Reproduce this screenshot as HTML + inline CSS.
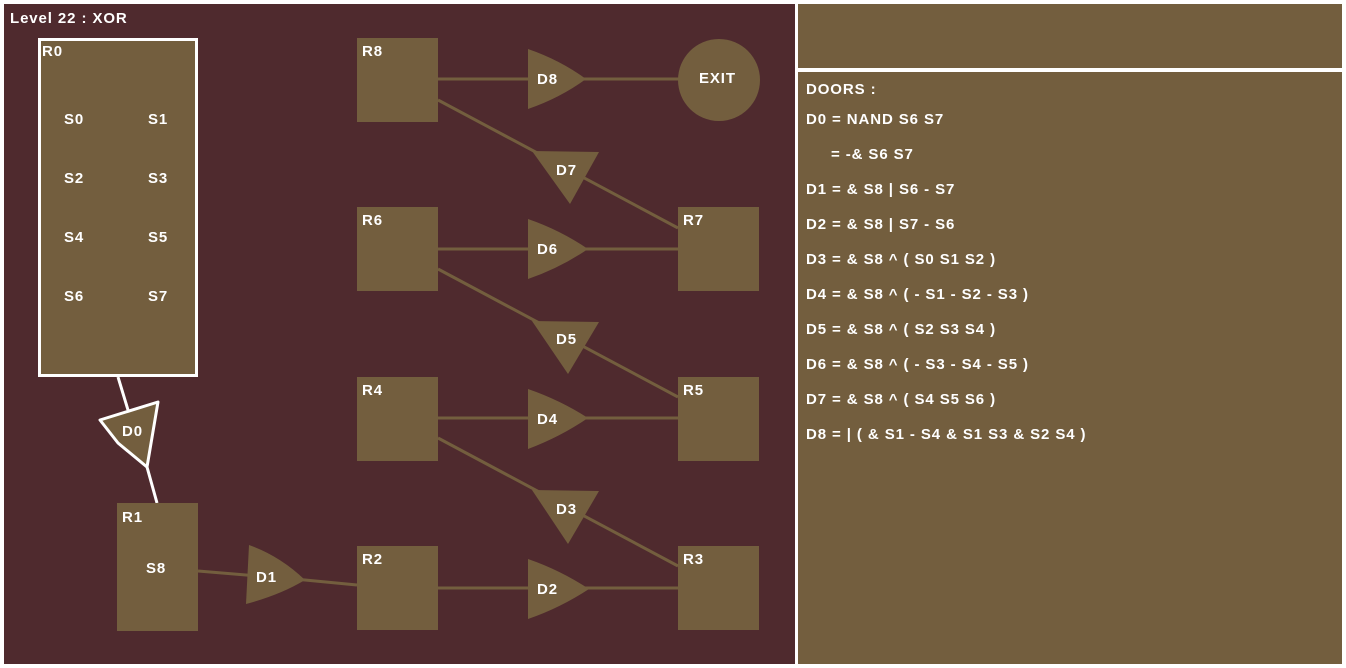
<!DOCTYPE html>
<html><head><meta charset="utf-8"><style>
html,body{margin:0;padding:0;background:#fff;}
svg{display:block;}
text{font-family:"Liberation Sans",sans-serif;font-weight:bold;fill:#fff;font-size:15px;letter-spacing:0.9px;}
</style></head><body>
<svg width="1346" height="668" viewBox="0 0 1346 668" xmlns="http://www.w3.org/2000/svg">
<rect x="0" y="0" width="1346" height="668" fill="#fff"/>
<rect x="4" y="4" width="791" height="660" fill="#4f2a2e"/>
<rect x="798" y="4" width="544" height="64" fill="#735e3e"/>
<rect x="798" y="72" width="544" height="592" fill="#735e3e"/>
<text x="10" y="23">Level 22 : XOR</text>
<g stroke="#735e3e" stroke-width="3" fill="none">
<line x1="438" y1="79" x2="720" y2="79"/>
<line x1="438" y1="100" x2="678" y2="228"/>
<line x1="438" y1="249" x2="678" y2="249"/>
<line x1="438" y1="269" x2="678" y2="397"/>
<line x1="438" y1="418" x2="678" y2="418"/>
<line x1="438" y1="438" x2="678" y2="566"/>
<line x1="438" y1="588" x2="678" y2="588"/>
<polyline points="198,571 305,580 357,585"/>
</g>
<g stroke="#fff" stroke-width="3" fill="none">
<line x1="118" y1="377" x2="128" y2="410"/>
<line x1="147" y1="467" x2="157" y2="503"/>
</g>
<g fill="#735e3e">
<rect x="357" y="38" width="81" height="84"/>
<rect x="357" y="207" width="81" height="84"/>
<rect x="678" y="207" width="81" height="84"/>
<rect x="357" y="377" width="81" height="84"/>
<rect x="678" y="377" width="81" height="84"/>
<rect x="357" y="546" width="81" height="84"/>
<rect x="678" y="546" width="81" height="84"/>
<rect x="117" y="503" width="81" height="128"/>
<circle cx="719" cy="80" r="41"/>
<path d="M528,49 Q560,60 586,79 Q560,98 528,109 Z"/>
<path d="M528,219 Q560,230 588,249 Q560,268 528,279 Z"/>
<path d="M528,389 Q560,400 588,418 Q560,437 528,449 Z"/>
<path d="M528,559 Q560,570 589,589 Q560,608 528,619 Z"/>
<path d="M249,545 Q280,556 305,580 Q280,595 246,604 Z"/>
<path d="M532,151 L599,152 L570,204 Z"/>
<path d="M532,321 L599,322 L568,374 Z"/>
<path d="M532,490 L599,491 L568,544 Z"/>
</g>
<rect x="39.5" y="39.5" width="157" height="336" fill="#735e3e" stroke="#fff" stroke-width="3"/>
<path d="M100,420 L158,402 L147,467 L118,443 Z" fill="#735e3e" stroke="#fff" stroke-width="3" stroke-linejoin="round"/>
<text x="42" y="56">R0</text>
<text x="64" y="124">S0</text><text x="148" y="124">S1</text>
<text x="64" y="183">S2</text><text x="148" y="183">S3</text>
<text x="64" y="242">S4</text><text x="148" y="242">S5</text>
<text x="64" y="301">S6</text><text x="148" y="301">S7</text>
<text x="122" y="436">D0</text>
<text x="122" y="522">R1</text>
<text x="146" y="573">S8</text>
<text x="256" y="582">D1</text>
<text x="362" y="56">R8</text>
<text x="362" y="225">R6</text>
<text x="362" y="395">R4</text>
<text x="362" y="564">R2</text>
<text x="683" y="225">R7</text>
<text x="683" y="395">R5</text>
<text x="683" y="564">R3</text>
<text x="699" y="83">EXIT</text>
<text x="537" y="84">D8</text>
<text x="537" y="254">D6</text>
<text x="537" y="424">D4</text>
<text x="537" y="594">D2</text>
<text x="556" y="175">D7</text>
<text x="556" y="344">D5</text>
<text x="556" y="514">D3</text>
<text x="806" y="94">DOORS :</text>
<text x="806" y="124">D0 = NAND S6 S7</text>
<text x="831" y="159">= -&amp; S6 S7</text>
<text x="806" y="194">D1 = &amp; S8 | S6 - S7</text>
<text x="806" y="229">D2 = &amp; S8 | S7 - S6</text>
<text x="806" y="264">D3 = &amp; S8 ^ ( S0 S1 S2 )</text>
<text x="806" y="299">D4 = &amp; S8 ^ ( - S1 - S2 - S3 )</text>
<text x="806" y="334">D5 = &amp; S8 ^ ( S2 S3 S4 )</text>
<text x="806" y="369">D6 = &amp; S8 ^ ( - S3 - S4 - S5 )</text>
<text x="806" y="404">D7 = &amp; S8 ^ ( S4 S5 S6 )</text>
<text x="806" y="439">D8 = | ( &amp; S1 - S4 &amp; S1 S3 &amp; S2 S4 )</text>
</svg>
</body></html>
